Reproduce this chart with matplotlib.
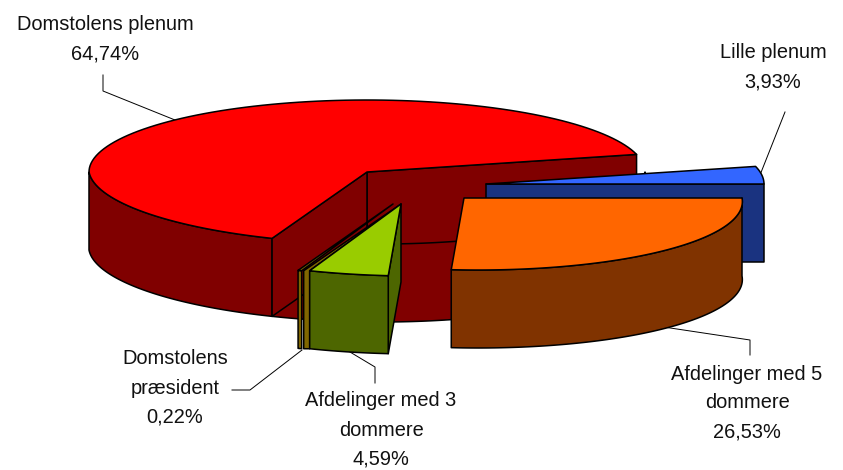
import numpy as np
import matplotlib
matplotlib.use("Agg")
import matplotlib.pyplot as plt
from matplotlib.patches import Polygon

plt.rcParams['font.family'] = ['Liberation Sans', 'DejaVu Sans']

# data, clockwise from the red slice
names = ["Domstolens plenum", "Lille plenum", "Afdelinger med 5\ndommere",
         "Afdelinger med 3\ndommere", "Domstolens\npræsident"]
shares = [64.74, 3.93, 26.53, 4.59, 0.22]
share_labels = ["64,74%", "3,93%", "26,53%", "4,59%", "0,22%"]

top_colors = ["#FF0000", "#3366FF", "#FF6600", "#99CC00", "#FFCC00"]
side_colors = ["#800000", "#1A3380", "#803300", "#4D6600", "#806600"]

# where each slice tip sits on the page (pixels)
tips = [(367, 172), (486, 184), (464, 198), (401, 204), (393, 204)]
rx, ry, depth = 278, 72, 78
skew = 14  # fake perspective on the front half
start_angle = shares[1] * 3.6  # red ends here, orange starts at 0
lw = 1.1

label_pos = [(105, 25), (773, 53), (747, 374), (381, 401), (175, 359)]
leaders = [
    [(103, 75), (103, 91), (175, 120)],
    [(785, 112), (760, 175)],
    [(657, 326), (750, 340), (750, 355)],
    [(350, 352), (375, 367), (375, 383)],
    [(302, 350), (250, 390), (232, 390)],
]


def rim(tip, a0, a1, n=120):
    t = np.radians(np.linspace(a0, a1, n))
    x = tip[0] + rx * np.cos(t) + skew * np.maximum(0, -np.sin(t))
    y = tip[1] - ry * np.sin(t)
    return np.column_stack([x, y])


def poly(ax, pts, color, z):
    ax.add_patch(Polygon(pts, closed=True, facecolor=color, edgecolor='black',
                         linewidth=lw, joinstyle='round', zorder=z))


def down(pts):
    return np.asarray(pts) + np.array([0, depth])


def wall(ax, tip, a0, a1, color, z):
    # outer wall, only the part facing the viewer (lower half)
    lo, hi = max(min(a0, a1), -180), min(max(a0, a1), 0)
    if lo >= hi:
        return
    edge = rim(tip, lo, hi)
    poly(ax, np.vstack([edge, down(edge)[::-1]]), color, z)


def cut_face(ax, tip, point, color, z):
    a = np.array([tip, point])
    poly(ax, np.vstack([a, down(a)[::-1]]), color, z)


fig = plt.figure(figsize=(8.43, 4.7), dpi=100)
ax = fig.add_axes([0, 0, 1, 1])
ax.set_xlim(0, 843)
ax.set_ylim(470, 0)
ax.axis('off')

# slice angles, going clockwise from start_angle
ends = start_angle - np.cumsum([0] + shares[1:]) * 3.6
spans = [(ends[-1] + 360, start_angle)] + [(ends[i], ends[i - 1]) for i in range(1, 5)]

# red slice
a0, a1 = spans[0]
tip = tips[0]
edge = rim(tip, a0, a1)
cut_face(ax, tip, edge[-1], side_colors[0], 1)
wall(ax, tip, a0 - 360, 0, side_colors[0], 2)
left = rim(tip, 180, a0)
poly(ax, np.vstack([left, down(left)[::-1]]), side_colors[0], 2)
cut_face(ax, tip, edge[0], side_colors[0], 3)
poly(ax, np.vstack([[tip], edge]), top_colors[0], 4)

# blue slice
a0, a1 = spans[1]
tip = tips[1]
edge = rim(tip, a0, a1)
cut_face(ax, tip, edge[0], side_colors[1], 5)
poly(ax, np.vstack([[tip], edge]), top_colors[1], 6)

# orange slice
a0, a1 = spans[2]
tip = tips[2]
edge = rim(tip, a0, a1)
wall(ax, tip, a0, a1, side_colors[2], 7)
poly(ax, np.vstack([[tip], edge]), top_colors[2], 8)

# gold slice
a0, a1 = spans[4]
tip = tips[4]
edge = rim(tip, a0, a1)
wall(ax, tip, a0, a1, side_colors[4], 9)
poly(ax, np.vstack([[tip], edge]), side_colors[4], 10)

# green slice, with its gold strip on the left
a0, a1 = spans[3]
tip = tips[3]
edge = rim(tip, a0, a1)
strip = np.array([tip, edge[0], down([edge[0]])[0],
                  down([edge[0]])[0] - [6, 0], edge[0] - [6, 0]])
poly(ax, strip, side_colors[4], 11)
cut_face(ax, tip, edge[0] * 0 + edge[-1], side_colors[3], 12)
wall(ax, tip, a0, a1, side_colors[3], 13)
poly(ax, np.vstack([[tip], edge]), top_colors[3], 14)

for line in leaders:
    xs, ys = zip(*line)
    ax.plot(xs, ys, color='black', lw=0.7, zorder=0.5)

for name, share, (x, y) in zip(names, share_labels, label_pos):
    ax.text(x, y, name + "\n" + share, ha='center', va='center_baseline' if False else 'top',
            fontsize=14.4, color='#111111', linespacing=1.17,
            transform=ax.transData) if False else None
    for k, line in enumerate((name + "\n" + share).split("\n")):
        ax.text(x, y + k * 29, line, ha='center', va='center', fontsize=14.4, color='#111111')

fig.savefig("out.png", dpi=100)
